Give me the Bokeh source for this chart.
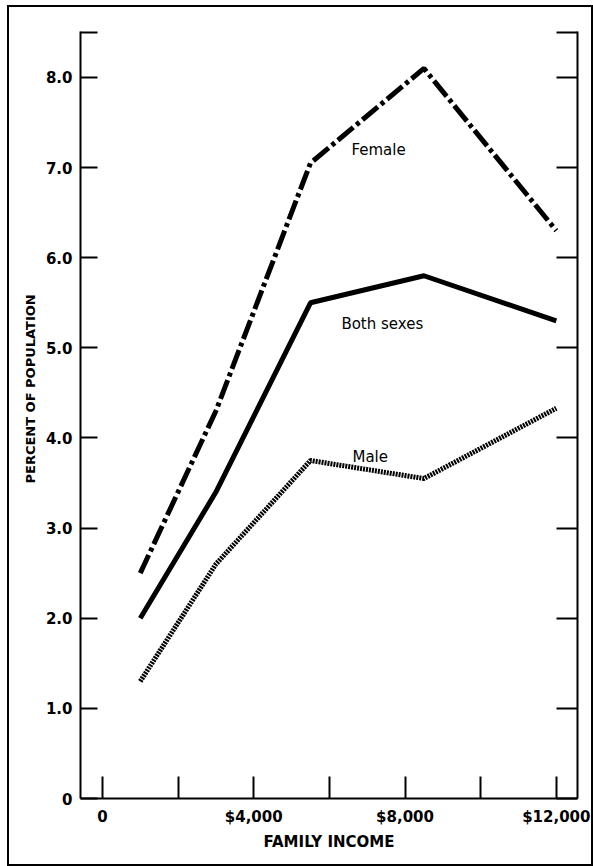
from bokeh.plotting import figure
from bokeh.layouts import column
from bokeh.models import LinearAxis, FixedTicker, Range1d, Label, NumeralTickFormatter, Title
from bokeh.embed import file_html
from bokeh.resources import INLINE

# ---- data ----
income = [1000, 3000, 5500, 8500, 12000]
female = [2.5, 4.3, 7.05, 8.1, 6.3]
both_sexes = [2.0, 3.4, 5.5, 5.8, 5.3]
male = [1.3, 2.6, 3.75, 3.55, 4.33]

y_ticks = [0, 1, 2, 3, 4, 5, 6, 7, 8]
y_minor = [8.5]
x_ticks = [0, 4000, 8000, 12000]
x_minor = [2000, 6000, 10000]

FONT = "DejaVu Sans"

p = figure(width=582, height=857, output_backend="svg", toolbar_location=None,
           x_range=Range1d(-580, 12560), y_range=Range1d(0, 8.51),
           x_axis_location=None, y_axis_location=None,
           min_border_left=71, min_border_right=14, min_border_top=24, min_border_bottom=66)
p.grid.grid_line_color = None
p.outline_line_color = None
p.background_fill_color = "white"
p.border_fill_color = "white"

def style_axis(ax, tick_in):
    ax.axis_line_width = 2
    ax.axis_line_color = "black"
    ax.major_tick_in = tick_in
    ax.major_tick_out = 0
    ax.minor_tick_in = tick_in
    ax.minor_tick_out = 0
    ax.major_tick_line_width = 2
    ax.minor_tick_line_width = 2
    ax.major_tick_line_color = "black"
    ax.minor_tick_line_color = "black"
    ax.major_label_text_font = FONT
    ax.major_label_text_font_style = "bold"
    ax.major_label_text_font_size = "15px"
    ax.major_label_text_color = "black"
    ax.axis_label_text_font = FONT
    ax.axis_label_text_font_style = "bold"
    ax.axis_label_text_color = "black"

left = LinearAxis(ticker=FixedTicker(ticks=y_ticks, minor_ticks=y_minor),
                  formatter=NumeralTickFormatter(format="0.0"),
                  major_label_overrides={0: "0"})
style_axis(left, 17)
left.major_label_standoff = 8
p.add_layout(left, "left")

# y-axis title as a side title so it can sit where the reference has it
ytitle = Title(text="PERCENT OF POPULATION", align="left", offset=315,
               text_font=FONT, text_font_style="bold", text_font_size="13px",
               text_color="black", standoff=10)
p.add_layout(ytitle, "left")

right = LinearAxis(ticker=FixedTicker(ticks=[], minor_ticks=y_ticks + y_minor))
style_axis(right, 21)
right.major_label_standoff = 0
p.add_layout(right, "right")

bottom = LinearAxis(ticker=FixedTicker(ticks=x_ticks, minor_ticks=x_minor),
                    formatter=NumeralTickFormatter(format="$0,0"),
                    major_label_overrides={0: "0"},
                    axis_label="FAMILY INCOME")
style_axis(bottom, 22)
bottom.major_label_standoff = 9
bottom.axis_label_standoff = 4
bottom.axis_label_text_font_size = "15px"
p.add_layout(bottom, "below")

p.line(income, female, line_color="black", line_width=5, line_dash="20 4 4 4")
p.line(income, both_sexes, line_color="black", line_width=5)
p.line(income, male, line_color="black", line_width=5, line_dash="2 1")

for txt, x, y in [("Female", 7300, 7.19), ("Both sexes", 7400, 5.27), ("Male", 7080, 3.79)]:
    p.add_layout(Label(x=x, y=y, text=txt, text_font=FONT, text_font_size="15px",
                       text_align="center", text_baseline="middle", text_color="black"))

page = column(p, margin=(5, 0, 0, 7), styles={"border": "2px solid black"})

open("out.html", "w").write(file_html(page, INLINE))
